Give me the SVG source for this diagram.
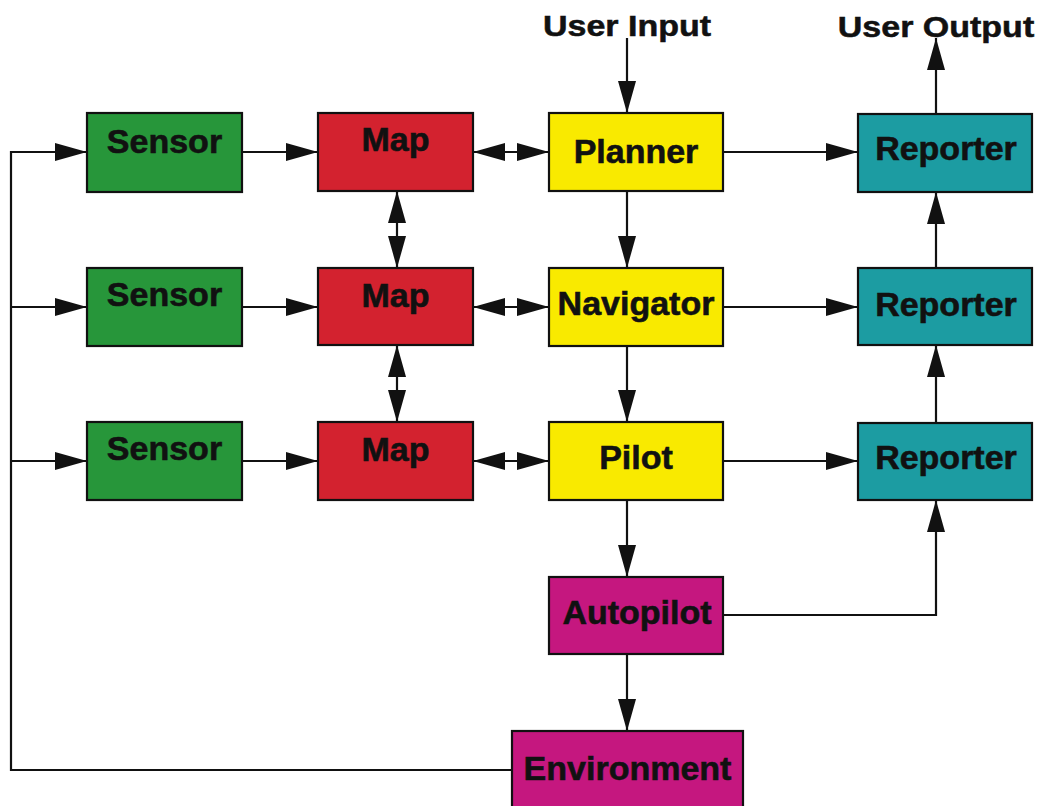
<svg xmlns="http://www.w3.org/2000/svg" width="1040" height="806" viewBox="0 0 1040 806">
<style>
.box{stroke:#111;stroke-width:2.2}
.sensor{fill:#27963a}
.map{fill:#d3222f}
.yel{fill:#f9ea00}
.teal{fill:#1c9ca2}
.mag{fill:#c5177f}
.lbl{font-family:"Liberation Sans",Arial,sans-serif;font-weight:bold;font-size:34px;fill:#111;stroke:#111;stroke-width:0.6;text-anchor:middle}
.c{fill:none;stroke:#111;stroke-width:2.2}
</style>
<defs>
<marker id="ah" markerUnits="userSpaceOnUse" markerWidth="32" markerHeight="18" refX="32" refY="9" orient="auto-start-reverse" viewBox="0 0 32 18">
<path d="M0,0 L32,9 L0,18 z" fill="#111"/>
</marker>
</defs>
<rect width="1040" height="806" fill="#fff"/>
<g id="connectors">
<line class="c" x1="627" y1="38" x2="627" y2="113" marker-end="url(#ah)"/>
<line class="c" x1="936" y1="114" x2="936" y2="38" marker-end="url(#ah)"/>
<path class="c" d="M512,770 H11 V152 H87" marker-end="url(#ah)"/>
<line class="c" x1="11" y1="307" x2="87" y2="307" marker-end="url(#ah)"/>
<line class="c" x1="11" y1="461" x2="87" y2="461" marker-end="url(#ah)"/>
<line class="c" x1="242" y1="152" x2="318" y2="152" marker-end="url(#ah)"/>
<line class="c" x1="242" y1="307" x2="318" y2="307" marker-end="url(#ah)"/>
<line class="c" x1="242" y1="461" x2="318" y2="461" marker-end="url(#ah)"/>
<line class="c" x1="473" y1="152" x2="549" y2="152" marker-start="url(#ah)" marker-end="url(#ah)"/>
<line class="c" x1="473" y1="307" x2="549" y2="307" marker-start="url(#ah)" marker-end="url(#ah)"/>
<line class="c" x1="473" y1="461" x2="549" y2="461" marker-start="url(#ah)" marker-end="url(#ah)"/>
<line class="c" x1="397" y1="191" x2="397" y2="268" marker-start="url(#ah)" marker-end="url(#ah)"/>
<line class="c" x1="397" y1="345" x2="397" y2="422" marker-start="url(#ah)" marker-end="url(#ah)"/>
<line class="c" x1="627" y1="191" x2="627" y2="268" marker-end="url(#ah)"/>
<line class="c" x1="627" y1="346" x2="627" y2="422" marker-end="url(#ah)"/>
<line class="c" x1="627" y1="500" x2="627" y2="577" marker-end="url(#ah)"/>
<line class="c" x1="627" y1="654" x2="627" y2="731" marker-end="url(#ah)"/>
<line class="c" x1="723" y1="152" x2="858" y2="152" marker-end="url(#ah)"/>
<line class="c" x1="723" y1="307" x2="858" y2="307" marker-end="url(#ah)"/>
<line class="c" x1="723" y1="461" x2="858" y2="461" marker-end="url(#ah)"/>
<line class="c" x1="936" y1="268" x2="936" y2="192" marker-end="url(#ah)"/>
<line class="c" x1="936" y1="423" x2="936" y2="345" marker-end="url(#ah)"/>
<path class="c" d="M723,615 H936 V500" marker-end="url(#ah)"/>
</g>
<g id="title-in"><text class="lbl" transform="translate(627,36) scale(1,0.88)">User Input</text></g>
<g id="title-out"><text class="lbl" transform="translate(936,37) scale(1,0.88)">User Output</text></g>
<g id="sensor1"><rect class="box sensor" x="87" y="113" width="155" height="79"/><text class="lbl" x="164.5" y="153">Sensor</text></g>
<g id="sensor2"><rect class="box sensor" x="87" y="268" width="155" height="78"/><text class="lbl" x="164.5" y="306">Sensor</text></g>
<g id="sensor3"><rect class="box sensor" x="87" y="422" width="155" height="78"/><text class="lbl" x="164.5" y="460">Sensor</text></g>
<g id="map1"><rect class="box map" x="318" y="113" width="155" height="78"/><text class="lbl" x="395.5" y="151">Map</text></g>
<g id="map2"><rect class="box map" x="318" y="268" width="155" height="77"/><text class="lbl" x="395.5" y="307">Map</text></g>
<g id="map3"><rect class="box map" x="318" y="422" width="155" height="78"/><text class="lbl" x="395.5" y="461">Map</text></g>
<g id="planner"><rect class="box yel" x="549" y="113" width="174" height="78"/><text class="lbl" x="636" y="163">Planner</text></g>
<g id="navigator"><rect class="box yel" x="549" y="268" width="174" height="78"/><text class="lbl" x="636" y="315">Navigator</text></g>
<g id="pilot"><rect class="box yel" x="549" y="422" width="174" height="78"/><text class="lbl" x="636" y="469">Pilot</text></g>
<g id="reporter1"><rect class="box teal" x="858" y="114" width="174" height="78"/><text class="lbl" x="946" y="160">Reporter</text></g>
<g id="reporter2"><rect class="box teal" x="858" y="268" width="174" height="77"/><text class="lbl" x="946" y="316">Reporter</text></g>
<g id="reporter3"><rect class="box teal" x="858" y="423" width="174" height="77"/><text class="lbl" x="946" y="469">Reporter</text></g>
<g id="autopilot"><rect class="box mag" x="549" y="577" width="174" height="77"/><text class="lbl" x="637" y="624">Autopilot</text></g>
<g id="environment"><rect class="box mag" x="512" y="731" width="231" height="90"/><text class="lbl" x="627.5" y="780">Environment</text></g>
</svg>
